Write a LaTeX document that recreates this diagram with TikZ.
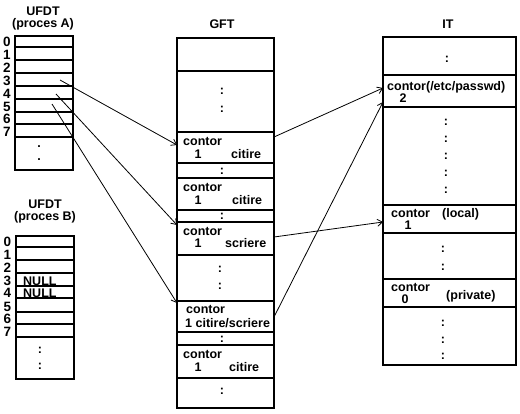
\documentclass[tikz,border=0pt]{standalone}
\usepackage{fontspec}
\setmainfont{Liberation Sans}
\usetikzlibrary{arrows.meta,calc}
\begin{document}
\begin{tikzpicture}[x=1pt,y=-1pt,
 cell/.style={draw,line width=2pt,inner sep=0pt,outer sep=0pt,anchor=north west},
 txt/.style={inner sep=0pt,anchor=base west,font=\fontsize{12.5}{14}\selectfont\bfseries},
 ctxt/.style={inner sep=0pt,anchor=base,font=\fontsize{12.5}{14}\selectfont\bfseries},
 dtxt/.style={inner sep=0pt,anchor=base,font=\fontsize{13.5}{14}\selectfont\bfseries},
 arr/.style={line width=0.8pt,-{Straight Barb[length=5pt,width=7pt]}}]
\useasboundingbox (0,0) rectangle (520,413);
\newcommand\cellbox[5]{\node[cell,minimum width=#3pt,minimum height=#5pt] (#1) at (#2,#4) {};}
% UFDT A
\cellbox{a0}{15}{58}{36}{11}
\cellbox{a1}{15}{58}{47}{13}
\cellbox{a2}{15}{58}{60}{13}
\cellbox{a3}{15}{58}{73}{13}
\cellbox{a4}{15}{58}{86}{13}
\cellbox{a5}{15}{58}{99}{13}
\cellbox{a6}{15}{58}{112}{12}
\cellbox{a7}{15}{58}{124}{13}
\cellbox{a8}{15}{58}{137}{33}
\node[ctxt] (ta1) at (43,15.5) {UFDT};
\node[ctxt] (ta2) at (43,27) {(proces A)};
\foreach \d/\y in {0/46,1/59,2/72,3/85,4/98,5/111,6/123,7/136}
  \node[dtxt] (na\d) at (7,\y) {\d};
\node[ctxt] (pa1) at (39,147) {.};
\node[ctxt] (pa2) at (39,160) {.};
% UFDT B
\cellbox{b0}{16}{58}{236}{11}
\cellbox{b1}{16}{58}{247}{13}
\cellbox{b2}{16}{58}{260}{13}
\cellbox{b3}{16}{58}{273}{13}
\cellbox{b4}{16}{58}{286}{12}
\cellbox{b5}{16}{58}{298}{14}
\cellbox{b6}{16}{58}{312}{12}
\cellbox{b7}{16}{58}{324}{13}
\cellbox{b8}{16}{58}{337}{42}
\node[ctxt] (tb1) at (45,208.5) {UFDT};
\node[ctxt] (tb2) at (45,220) {(proces B)};
\foreach \d/\y in {0/246,1/259,2/272,3/285,4/297,5/311,6/323,7/336}
  \node[dtxt] (nb\d) at (7.5,\y) {\d};
\node[txt] (null3) at (23,285) {NULL};
\node[txt] (null4) at (23,297) {NULL};
\node[ctxt] (cb1) at (40,353) {:};
\node[ctxt] (cb2) at (40,369) {:};
% GFT
\node[ctxt] (tg) at (222,28) {GFT};
\cellbox{g0}{177}{97}{38}{33}
\cellbox{gd1}{177}{97}{71}{61}
\cellbox{g1}{177}{97}{132}{31}
\cellbox{gd2}{177}{97}{163}{15}
\cellbox{g2}{177}{97}{178}{32}
\cellbox{gd3}{177}{97}{210}{12}
\cellbox{g3}{177}{97}{222}{33}
\cellbox{gd4}{177}{97}{255}{46}
\cellbox{g4}{177}{97}{301}{31}
\cellbox{gd5}{177}{97}{332}{13}
\cellbox{g5}{177}{97}{345}{33}
\cellbox{gd6}{177}{97}{378}{30}
\node[ctxt] (cg1) at (222,94) {:};
\node[ctxt] (cg2) at (222,112) {:};
\node[ctxt] (cg3) at (222,174) {:};
\node[ctxt] (cg4) at (222,219) {:};
\node[ctxt] (cg5) at (220,272) {:};
\node[ctxt] (cg6) at (220,289) {:};
\node[ctxt] (cg7) at (222,342) {:};
\node[ctxt] (cg8) at (222,394) {:};
\node[txt] (g1a) at (183,145) {contor};
\node[ctxt] (g1b) at (198,158) {1};
\node[txt] (g1c) at (231,158) {citire};
\node[txt] (g2a) at (183,191) {contor};
\node[ctxt] (g2b) at (198,204) {1};
\node[txt] (g2c) at (232,204) {citire};
\node[txt] (g3a) at (183,235) {contor};
\node[ctxt] (g3b) at (198,247) {1};
\node[txt] (g3c) at (225,247) {scriere};
\node[txt] (g4a) at (186,313) {contor};
\node[txt] (g4b) at (185,327) {1 citire/scriere};
\node[txt] (g5a) at (183,358) {contor};
\node[ctxt] (g5b) at (198,371) {1};
\node[txt] (g5c) at (229,371) {citire};
% IT
\node[ctxt] (ti) at (448,28) {IT};
\cellbox{i0}{383}{133}{37}{38}
\cellbox{i1}{383}{133}{75}{32}
\cellbox{id1}{383}{133}{107}{98}
\cellbox{i2}{383}{133}{205}{28}
\cellbox{id2}{383}{133}{233}{46}
\cellbox{i3}{383}{133}{279}{28}
\cellbox{id3}{383}{133}{307}{58}
\node[ctxt] (ci0) at (447,62) {:};
\foreach \k/\y in {1/125,2/142,3/159,4/176,5/193}
  \node[ctxt] (ci1\k) at (446,\y) {:};
\node[ctxt] (ci21) at (443,252) {:};
\node[ctxt] (ci22) at (443,270) {:};
\node[ctxt] (ci31) at (443,326) {:};
\node[ctxt] (ci32) at (443,343) {:};
\node[ctxt] (ci33) at (443,359) {:};
\node[txt] (i1a) at (387,90) {contor(/etc/passwd)};
\node[ctxt] (i1b) at (403,102) {2};
\node[txt] (i2a) at (391,217) {contor};
\node[ctxt] (i2b) at (408,229) {1};
\node[txt] (i2c) at (442,217) {(local)};
\node[txt] (i3a) at (391,291) {contor};
\node[ctxt] (i3b) at (405,303) {0};
\node[txt] (i3c) at (446,299) {(private)};
% arrows
\coordinate (s3) at (60,80);
\coordinate (s4) at (56,94);
\coordinate (s5) at (52,104);
\draw[arr] (s3) -- ($(g1.north west)+(0,13)$);
\draw[arr] (s4) -- ($(g3.north west)+(0,3)$);
\draw[arr] (s5) -- ($(g4.north west)+(0,2)$);
\draw[arr] ($(g1.north east)+(0,5)$) -- ($(i1.north west)+(0,13)$);
\draw[arr] ($(g3.north east)+(0,15)$) -- ($(i2.north west)+(0,17)$);
\draw[arr] ($(g4.north east)+(0,16)$) -- ($(i1.north west)+(0,27)$);
\end{tikzpicture}
\end{document}
